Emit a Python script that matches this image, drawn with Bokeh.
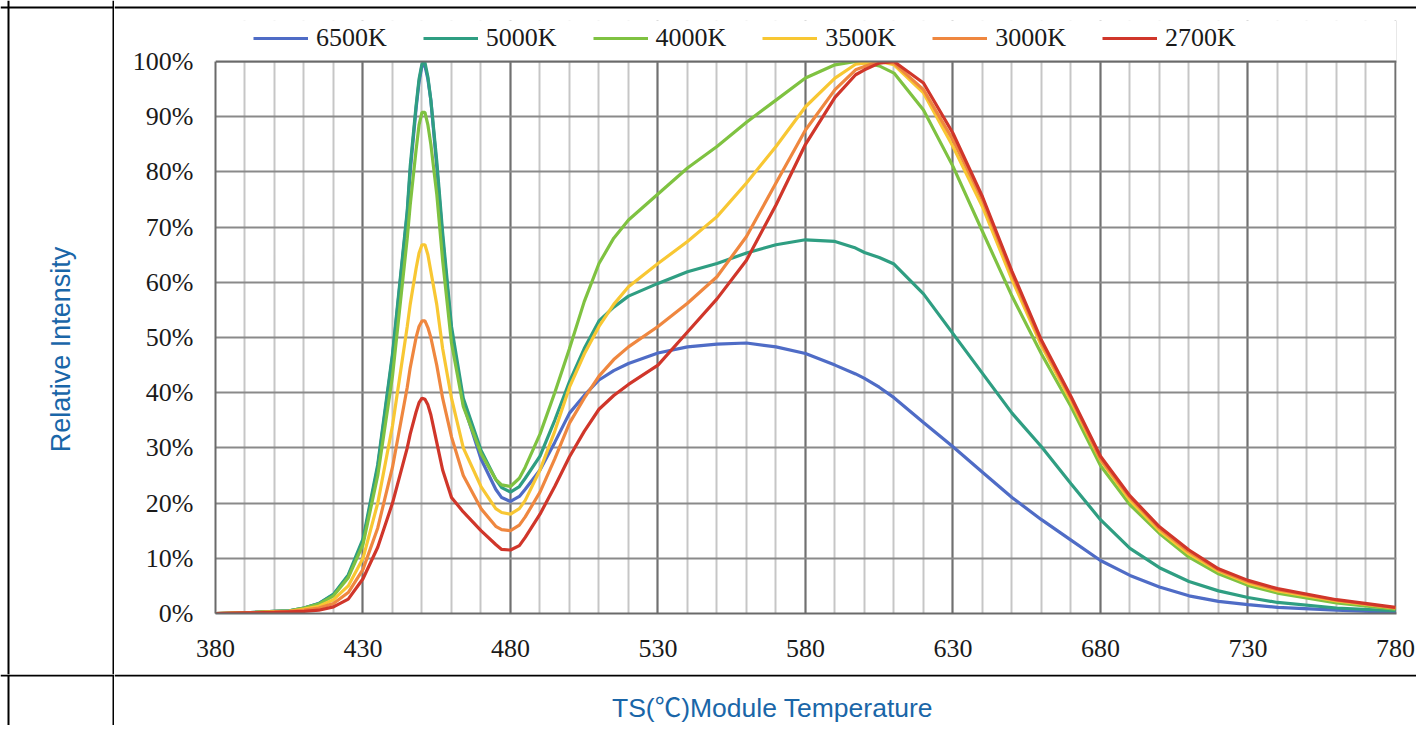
from bokeh.plotting import figure
from bokeh.models import (FixedTicker, PrintfTickFormatter, Legend, LegendItem,
                          Label, Span, Range1d, BoxAnnotation)
from bokeh.layouts import row, column
from bokeh.embed import file_html
from bokeh.resources import INLINE

# ---------------- data ----------------
wavelength = [380, 390, 400, 405, 410, 415, 420, 425, 430, 435, 440, 445, 446, 448,
              449, 450, 451, 452, 453, 455, 457, 460, 464, 470, 475, 477, 480, 483,
              485, 490, 495, 500, 505, 510, 515, 520, 530, 540, 550, 560, 570, 580,
              590, 597, 600, 605, 610, 620, 630, 640, 650, 660, 670, 680, 690, 700,
              710, 720, 730, 740, 760, 780]

k6500 = [0, 0.1, 0.4, 0.5, 1.0, 1.8, 3.4, 6.8, 13, 26.5, 46.5, 72.5, 80, 91.5,
         96.3, 99.3, 99.2, 96.8, 93, 81, 68, 51, 38, 28, 22.5, 21, 20.3, 21.2,
         22.5, 26, 31, 36.3, 39.5, 42.3, 44, 45.3, 47.2, 48.3, 48.8, 49, 48.3, 47.1,
         45, 43.4, 42.6, 41, 39.1, 34.6, 30.2, 25.6, 21, 17, 13.3, 9.6, 6.9, 4.8,
         3.2, 2.2, 1.6, 1.1, 0.6, 0.2]

k5000 = [0, 0.1, 0.4, 0.5, 1.0, 1.8, 3.5, 7, 13.5, 27, 47, 73, 81, 92,
         96.8, 99.6, 99.8, 97.2, 93, 82, 69, 52, 39, 29.6, 24.3, 22.8, 22, 23,
         24.5, 28.5, 35, 42, 48, 53, 55.5, 57.5, 59.8, 61.9, 63.4, 65.3, 66.8, 67.7,
         67.4, 66.2, 65.4, 64.5, 63.3, 57.9, 50.7, 43.5, 36.3, 30.2, 23.5, 17, 11.8, 8.3,
         5.8, 4.1, 2.9, 2.0, 1.0, 0.5]

k4000 = [0, 0.1, 0.4, 0.5, 1.0, 1.7, 3.2, 6.5, 12.5, 25, 43, 68, 74, 84,
         88.5, 90.8, 90.8, 88.5, 85, 76, 64, 49, 37.5, 29, 24.3, 23.3, 23, 24.5,
         26.5, 32.5, 40, 48, 56.5, 63.4, 68, 71.3, 76, 80.7, 84.6, 89, 93, 97,
         99.4, 100, 99.8, 99.2, 97.9, 91.2, 81, 69.2, 57.5, 47, 37.5, 26.8, 19.7, 14.5,
         10.2, 7.2, 5.1, 3.7, 1.9, 0.8]

k3500 = [0, 0.1, 0.3, 0.4, 0.8, 1.3, 2.5, 5, 10, 20, 34, 52, 56, 62.5,
         65.3, 66.8, 66.8, 65, 62, 56, 48, 39, 30, 23, 19, 18.3, 18, 19,
         20.5, 26, 33, 41, 47, 52, 56, 59.2, 63.4, 67.4, 71.9, 78, 84.6, 91.8,
         97, 99.5, 99.7, 100, 99.4, 94.3, 84.6, 73.7, 60.5, 48.5, 38.5, 27.8, 20.5, 15,
         10.8, 7.7, 5.5, 4.1, 2.3, 1.0]

k3000 = [0, 0.1, 0.3, 0.4, 0.6, 1.0, 1.8, 3.8, 8, 15.5, 26.5, 41, 44.5, 50,
         52, 53, 53, 51.8, 50, 45, 39, 32, 25, 19, 15.8, 15.2, 15, 16,
         17.5, 22, 28, 34.5, 39, 43, 46, 48.3, 52, 56.2, 61, 68.3, 78, 87.6,
         94.9, 98.5, 99.1, 100, 99.7, 94.9, 85.8, 74.9, 61.5, 49, 39, 28, 21, 15.4,
         11.2, 7.9, 5.8, 4.3, 2.4, 1.0]

k2700 = [0, 0.1, 0.2, 0.3, 0.4, 0.6, 1.2, 2.6, 6.3, 12, 20, 30, 32.5, 36.5,
         38.2, 39, 38.8, 37.8, 36, 31, 26, 21, 18.4, 15, 12.5, 11.6, 11.5, 12.3,
         13.8, 18, 23, 28.4, 33, 37, 39.5, 41.5, 45, 51, 57, 64, 74, 85,
         93.5, 97.6, 98.5, 99.7, 100, 96.1, 87, 75.5, 62, 49.5, 39.3, 28.5, 21.3, 15.7,
         11.5, 8.1, 6, 4.5, 2.5, 1.1]

series_names = ["6500K", "5000K", "4000K", "3500K", "3000K", "2700K"]
series_values = [k6500, k5000, k4000, k3500, k3000, k2700]
series_colors = ["#4f6cc6", "#2f9e82", "#7fc241", "#f8c733", "#ef873f", "#d0362a"]

x_ticks = [380, 430, 480, 530, 580, 630, 680, 730, 780]
x_minor = list(range(380, 781, 10))
y_ticks = [0, 10, 20, 30, 40, 50, 60, 70, 80, 90, 100]

y_title = "Relative Intensity"
x_title = "TS(\u2103)Module Temperature"

TITLE_COLOR = "#1a66a8"
TITLE_FONT = "'Liberation Sans', 'Noto Sans CJK SC'"
BOX_COLOR = "#6a6a6a"
TOTAL_W, TOTAL_H = 1416, 725
LEFT_W = 114
MAIN_W = TOTAL_W - LEFT_W
TOP_H = 674
BOT_H = TOTAL_H - TOP_H
BAND_H = 20
MAIN_H = TOP_H - BAND_H
BOTTOM_PAD = 61                     # space under the plot box for x tick labels
FRAME_H = MAIN_H - BOTTOM_PAD       # frame reaches the top of the chart figure
BOX_H = 552                         # pixel height of the 0..100 % box
Y_TOP = 100.0 * FRAME_H / BOX_H
LEGEND_CENTER = 37 - BAND_H         # legend centre, px below the chart figure's top


def cell(w, h):
    f = figure(width=w, height=h, output_backend="svg", toolbar_location=None,
               x_range=Range1d(0, w), y_range=Range1d(0, h),
               x_axis_type=None, y_axis_type=None, frame_align=False,
               min_border_left=0, min_border_right=0, min_border_top=0,
               min_border_bottom=0)
    f.outline_line_color = None
    f.background_fill_color = "white"
    f.border_fill_color = "white"
    return f


def rule(f, loc, dim):
    f.add_layout(Span(location=loc, dimension=dim, line_color="black", line_width=2))


# ---------------- left cell (y title) ----------------
tl = cell(LEFT_W, TOP_H)
rule(tl, 8, "height")
rule(tl, LEFT_W - 1, "height")
rule(tl, TOP_H - 7, "width")
tl.add_layout(Label(x=60, y=TOP_H - 349, x_units="screen", y_units="screen",
                    text=y_title, angle=1.5707963, text_align="center",
                    text_baseline="middle", text_font=TITLE_FONT,
                    text_font_size="27px", text_color=TITLE_COLOR))

# ---------------- band carrying the table's top rule ----------------
band = cell(MAIN_W, BAND_H)
rule(band, BAND_H - 7, "width")

# ---------------- chart ----------------
p = figure(width=MAIN_W, height=MAIN_H, output_backend="svg", toolbar_location=None,
           x_range=Range1d(380, 780.35), y_range=Range1d(0, Y_TOP), frame_align=False,
           min_border_left=101, min_border_right=20, min_border_top=0,
           min_border_bottom=BOTTOM_PAD)
p.background_fill_color = "white"
p.border_fill_color = "white"
p.outline_line_color = None

for ax in (p.xaxis[0], p.yaxis[0]):
    ax.axis_line_color = BOX_COLOR
    ax.axis_line_width = 2
    ax.major_tick_line_color = None
    ax.minor_tick_line_color = None
    ax.major_tick_out = 0
    ax.major_tick_in = 0
    ax.major_label_text_font = "Liberation Serif"
    ax.major_label_text_font_size = "26px"
    ax.major_label_text_color = "#1a1a1a"

p.xaxis[0].ticker = FixedTicker(ticks=x_ticks, minor_ticks=x_minor)
p.xaxis[0].major_label_standoff = 22
p.yaxis[0].ticker = FixedTicker(ticks=y_ticks)
p.yaxis[0].formatter = PrintfTickFormatter(format="%d%%")
p.yaxis[0].major_label_standoff = 22
p.yaxis[0].bounds = (0, 100)

p.xgrid.grid_line_color = "#707070"
p.xgrid.grid_line_width = 2
p.xgrid.minor_grid_line_color = "#c6c6c6"
p.xgrid.minor_grid_line_width = 2
p.ygrid.grid_line_color = "#8a8a8a"
p.ygrid.grid_line_width = 2

items = []
for name, vals, col in zip(series_names, series_values, series_colors):
    r = p.line(wavelength, vals, line_color=col, line_width=3.2)
    items.append(LegendItem(label=name, renderers=[r]))

# blank out everything above 100 % (a little past both frame edges),
# then draw the top edge of the plot box
p.add_layout(BoxAnnotation(bottom=100, left=379, right=781.5, fill_color="white",
                           fill_alpha=1, line_alpha=0))
p.add_layout(Span(location=100, dimension="width", line_color=BOX_COLOR, line_width=2))

legend = Legend(items=items, orientation="horizontal",
                location=(38, FRAME_H - LEGEND_CENTER - 16),
                glyph_width=55, glyph_height=20, label_standoff=8, spacing=36,
                padding=0, margin=0, border_line_alpha=0, background_fill_alpha=0,
                label_text_font="Liberation Serif", label_text_font_size="26px",
                label_text_color="#1a1a1a")
p.add_layout(legend)

# ---------------- bottom row (x title) ----------------
bl = cell(LEFT_W, BOT_H)
rule(bl, 8, "height")
rule(bl, LEFT_W - 1, "height")
rule(bl, BOT_H - 1, "width")

br = cell(MAIN_W, BOT_H)
rule(br, BOT_H - 1, "width")
br.add_layout(Label(x=772 - LEFT_W, y=BOT_H - 33, x_units="screen", y_units="screen",
                    text=x_title, text_align="center", text_baseline="middle",
                    text_font=TITLE_FONT, text_font_size="26.5px",
                    text_color=TITLE_COLOR))

page = column(row(tl, column(band, p)), row(bl, br))

open("out.html", "w").write(file_html(page, INLINE))
